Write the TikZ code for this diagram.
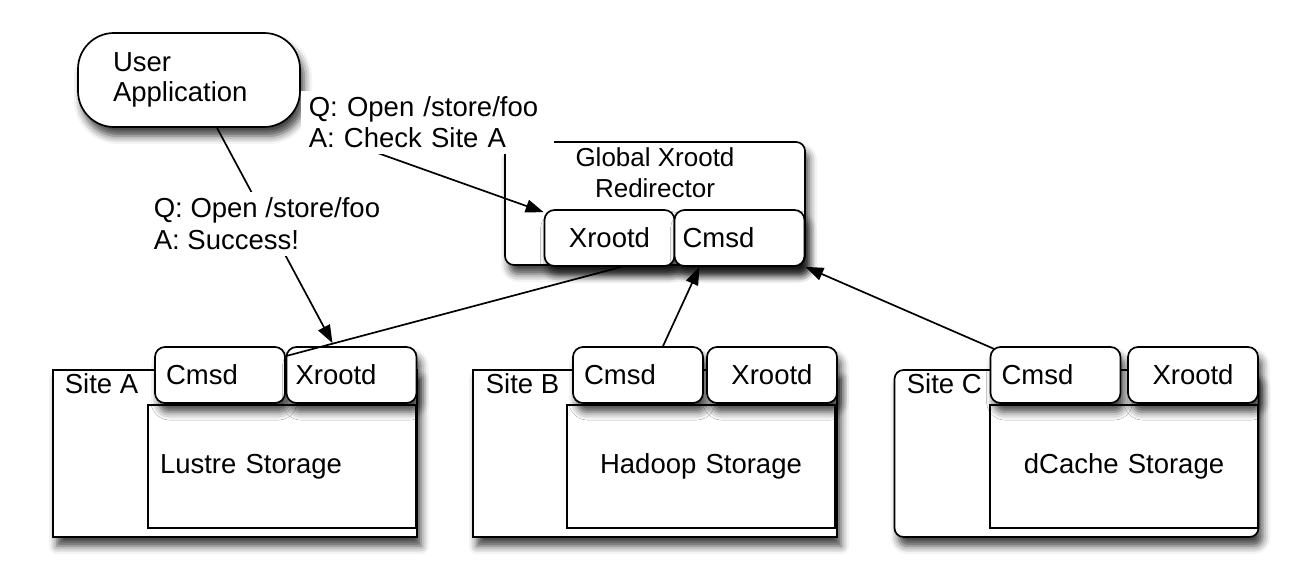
\documentclass[tikz,border=0pt]{standalone}
\usepackage{fontspec}
\setmainfont{Liberation Sans}
\usetikzlibrary{arrows.meta,shadows.blur}
\begin{document}
\begin{tikzpicture}[x=1pt,y=-1pt, line width=1.7pt,
  every node/.style={font=\fontsize{27.5}{32}\selectfont},
  shd/.style={blur shadow={shadow xshift=4pt, shadow yshift=-9pt, shadow blur radius=8pt, shadow opacity=75}},
  outer/.style={draw, fill=white, minimum width=364pt, minimum height=167pt, inner sep=0pt, shd},
  store/.style={draw, fill=white, minimum height=123pt, inner ysep=0pt, inner xsep=12pt, text width=244pt},
  ibox/.style={draw, fill=white, rounded corners=10pt, minimum height=56pt, inner xsep=11pt, inner ysep=0pt, text width=108pt, shd},
  txt/.style={inner sep=0pt, anchor=west},
  lbl/.style={fill=white, align=left, inner xsep=8pt, inner ysep=6pt},
  arr/.style={-{Triangle[length=18pt,width=13pt]}}]
\useasboundingbox (0,0) rectangle (1314,580);

% Global redirector
\node[draw, fill=white, rounded corners=9pt, minimum width=300pt, minimum height=123pt, shd] (gbox) at (655,203.5) {};
\node[align=center, inner sep=0pt, font=\fontsize{26}{31}\selectfont] (gtitle) at (655,173) {Global Xrootd\\Redirector};
\node[ibox, align=center] (gx) at (609.5,238) {Xrootd};
\node[ibox, align=left, inner xsep=8pt, text width=114pt] (gc) at (739.5,238) {Cmsd};

% User application
\node[draw, fill=white, rounded corners=36pt, minimum width=222pt, minimum height=94pt, inner xsep=35pt, text width=152pt, align=left, font=\fontsize{27.5}{30}\selectfont, shd] (ua) at (189,80) {User\\Application};

% Site A
\node[outer] (sa) at (235,453.5) {};
\node[txt] (sat) at (64,384) {Site A};
\node[store, align=left] (ast) at (282,466.5) {Lustre Storage};
\node[ibox, align=left] (acm) at (220,375) {Cmsd};
\node[ibox, align=left, inner xsep=9pt, text width=112pt] (axr) at (351.5,375) {Xrootd};

% Site B
\node[outer] (sb) at (655,453.5) {};
\node[txt] (sbt) at (485,384) {Site B};
\node[store, align=center] (bst) at (701,466.5) {Hadoop Storage};
\node[ibox, align=left] (bcm) at (638,375) {Cmsd};
\node[ibox, align=center] (bxr) at (772,375) {Xrootd};

% Site C
\node[outer, rounded corners=9pt] (sc) at (1076.5,453.5) {};
\node[txt] (sct) at (906,384) {Site C};
\node[store, align=center] (cst) at (1124,466.5) {dCache Storage};
\node[ibox, align=left] (ccm) at (1055.5,375) {Cmsd};
\node[ibox, align=center] (cxr) at (1193,375) {Xrootd};

% connectors
\draw[arr] ([xshift=28pt]ua.south) -- ([xshift=-19pt,yshift=3pt]axr.north);
\draw ([xshift=12pt]gx.south) -- ([yshift=-10pt]axr.north west);
\draw[arr] ([xshift=25pt]bcm.north) -- ([xshift=-40pt]gc.south);
\draw[arr] ([xshift=5pt,yshift=-3pt]ccm.north west) -- (gc.south east);
\draw[arr] (372,151) -- ([yshift=-3pt]gx.north west);

% labels
\node[lbl, anchor=west, text width=237pt, font=\fontsize{27.5}{31}\selectfont] (q1) at (300,122.5) {Q: Open /store/foo\\A: Check Site A};
\node[lbl, anchor=west, inner xsep=4pt, font=\fontsize{27.5}{32}\selectfont] (q2) at (149,224) {Q: Open /store/foo\\A: Success!};
\end{tikzpicture}
\end{document}
